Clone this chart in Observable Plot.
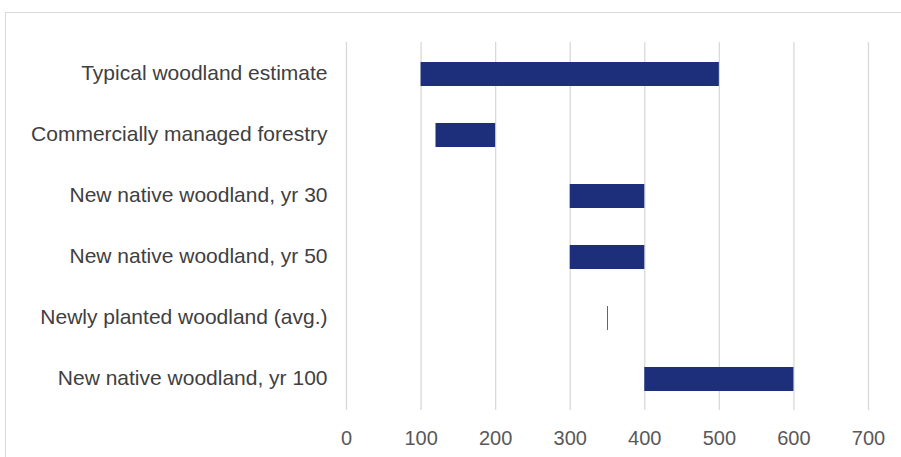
<!DOCTYPE html>
<html>
<head>
<meta charset="utf-8">
<script src="https://cdn.jsdelivr.net/npm/d3@7"></script>
<script src="https://cdn.jsdelivr.net/npm/@observablehq/plot@0.6"></script>
<style>
  html, body { margin: 0; padding: 0; background: #fff; overflow: hidden; }
  #wrap { position: relative; width: 901px; height: 457px; overflow: hidden; }
  #frame { position: absolute; left: 5px; top: 12px; width: 1000px; height: 600px;
           border: 1.5px solid #d9d9d9; box-sizing: border-box; }
  #chart { position: absolute; left: 0; top: 0; }
</style>
</head>
<body>
<div id="wrap">
  <div id="frame"></div>
  <div id="chart"></div>
</div>
<script>
// Carbon sequestration ranges by woodland type (low and high estimates)
const categories = [
  "Typical woodland estimate",
  "Commercially managed forestry",
  "New native woodland, yr 30",
  "New native woodland, yr 50",
  "Newly planted woodland (avg.)",
  "New native woodland, yr 100"
];
const lowValues = [100, 120, 300, 300, 350, 400];
const highValues = [500, 200, 400, 400, 351, 600];
const xTicks = [0, 100, 200, 300, 400, 500, 600, 700];

const rows = categories.map((name, i) => ({ name, low: lowValues[i], high: highValues[i] }));

const chart = Plot.plot({
  width: 901,
  height: 457,
  marginLeft: 346,
  marginRight: 33,
  marginTop: 42,
  marginBottom: 47,
  style: { fontFamily: "'Liberation Sans', Arial, sans-serif", fontSize: "20px", color: "#595959", background: "transparent" },
  x: { domain: [0, 700], ticks: xTicks, label: null },
  y: { domain: categories, paddingInner: 0.61, paddingOuter: 0.305, label: null },
  marks: [
    Plot.gridX(xTicks, { stroke: "#d9d9d9", strokeOpacity: 1, strokeWidth: 1.3 }),
    Plot.barX(rows, { y: "name", x1: "low", x2: "high", fill: "#1d2f7a" }),
    Plot.axisX({ ticks: xTicks, tickSize: 0, tickPadding: 20, fontSize: 20, fill: "#595959", label: null }),
    Plot.axisY({ tickSize: 0, tickPadding: 19, fontSize: 21, fill: "#404040", dy: -1.5, label: null })
  ]
});
document.getElementById("chart").appendChild(chart);
</script>
</body>
</html>
